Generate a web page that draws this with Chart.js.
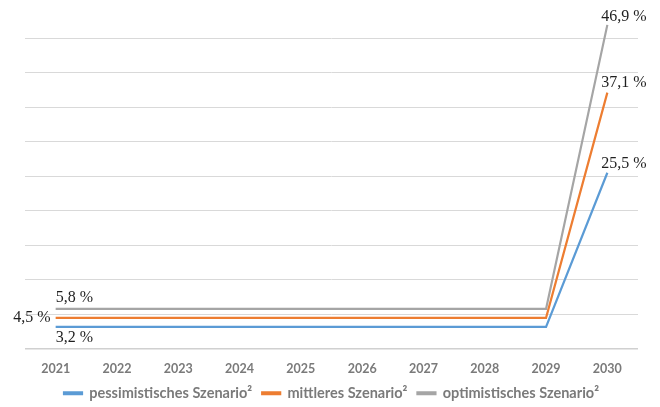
<!DOCTYPE html>
<html>
<head>
<meta charset="utf-8">
<script src="https://cdn.jsdelivr.net/npm/chart.js@4.4.0/dist/chart.umd.min.js"></script>
<style>
  html, body { margin: 0; padding: 0; background: #fff; }
  #wrap { width: 660px; height: 407px; }
</style>
</head>
<body>
<div id="wrap"><canvas id="myChart"></canvas></div>
<script>
var years = ['2021', '2022', '2023', '2024', '2025', '2026', '2027', '2028', '2029', '2030'];
var pessimistic = [3.2, 3.2, 3.2, 3.2, 3.2, 3.2, 3.2, 3.2, 3.2, 25.5];
var middle = [4.5, 4.5, 4.5, 4.5, 4.5, 4.5, 4.5, 4.5, 4.5, 37.1];
var optimistic = [5.8, 5.8, 5.8, 5.8, 5.8, 5.8, 5.8, 5.8, 5.8, 46.9];
var seriesNames = ['pessimistisches Szenario²', 'mittleres Szenario²', 'optimistisches Szenario²'];

// where the value labels go for the first and last point of each series
var labelPlaces = [
  { first: { dx: 0, dy: 11, align: 'left' }, last: { dx: -6, dy: -9, align: 'left' } },
  { first: { dx: -5, dy: 0, align: 'right' }, last: { dx: -6, dy: -10, align: 'left' } },
  { first: { dx: 0, dy: -11, align: 'left' }, last: { dx: -6, dy: -8, align: 'left' } }
];

function fmt(v) {
  return v.toFixed(1).replace('.', ',') + ' %';
}

var valueLabels = {
  id: 'valueLabels',
  afterDatasetsDraw: function (chart) {
    var ctx = chart.ctx;
    ctx.save();
    ctx.font = '16px "Liberation Serif", serif';
    ctx.fillStyle = '#1f1f1f';
    ctx.textBaseline = 'middle';
    chart.data.datasets.forEach(function (ds, i) {
      var pts = chart.getDatasetMeta(i).data;
      var last = pts.length - 1;
      [[0, labelPlaces[i].first], [last, labelPlaces[i].last]].forEach(function (p) {
        var pt = pts[p[0]];
        ctx.textAlign = p[1].align;
        ctx.fillText(fmt(ds.data[p[0]]), pt.x + p[1].dx, pt.y + p[1].dy);
      });
    });
    ctx.restore();
  }
};

var ctx = document.getElementById('myChart').getContext('2d');
var chart = new Chart(ctx, {
  type: 'line',
  data: {
    labels: years,
    datasets: [{
      label: seriesNames[0],
      data: pessimistic,
      borderColor: '#5b9bd5',
      backgroundColor: '#5b9bd5'
    }, {
      label: seriesNames[1],
      data: middle,
      borderColor: '#ed7d31',
      backgroundColor: '#ed7d31'
    }, {
      label: seriesNames[2],
      data: optimistic,
      borderColor: '#a5a5a5',
      backgroundColor: '#a5a5a5'
    }]
  },
  options: {
    responsive: true,
    maintainAspectRatio: false,
    animation: false,
    layout: { padding: { left: 25, right: 22, top: 38, bottom: -3.5 } },
    elements: {
      line: { borderWidth: 2.2, tension: 0 },
      point: { radius: 0, hoverRadius: 0 }
    },
    datasets: { line: { clip: false } },
    scales: {
      x: {
        offset: true,
        grid: { display: false, drawTicks: false },
        border: { display: false },
        ticks: {
          padding: 12,
          color: '#7a7a7a',
          font: { family: 'Lato', size: 12.5, weight: 'bold' }
        },
        afterFit: function (scale) {
          scale.height = 27;
        }
      },
      y: {
        min: 0,
        max: 45,
        ticks: { display: false, stepSize: 5 },
        grid: {
          color: function (c) { return c.tick.value === 0 ? '#d0d0d0' : '#d9d9d9'; },
          lineWidth: function (c) { return c.tick.value === 0 ? 1.5 : 1; },
          drawTicks: false
        },
        border: { display: false }
      }
    },
    plugins: {
      legend: {
        position: 'bottom',
        labels: {
          boxWidth: 18,
          boxHeight: 2,
          padding: 10,
          color: '#7a7a7a',
          font: { family: 'Lato', size: 14.5, weight: 'bold' }
        }
      },
      tooltip: { enabled: false }
    }
  },
  plugins: [valueLabels]
});
</script>
</body>
</html>
